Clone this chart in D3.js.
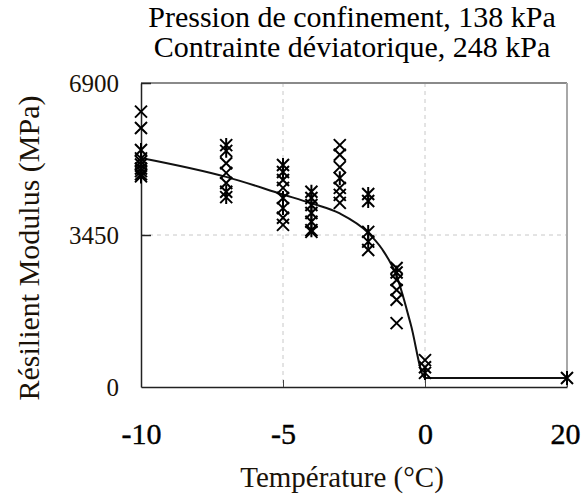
<!DOCTYPE html>
<html>
<head>
<meta charset="utf-8">
<script src="https://cdn.jsdelivr.net/npm/d3@7"></script>
<style>
  body { margin: 0; background: #fff; }
  svg { display: block; font-family: "Liberation Serif", "Times New Roman", serif; }
</style>
</head>
<body>
<div id="chart"></div>
<script>
// titles and axis text
const titleLines = ['Pression de confinement, 138 kPa', 'Contrainte déviatorique, 248 kPa']
const xLabel = 'Température (°C)'
const yLabel = 'Résilient Modulus (MPa)'

// x axis is broken: -10..0 linear, then a short jump to 20
const xTicks = [-10, -5, 0, 20]
const yTicks = [0, 3450, 6900]

// measured points, asterisk markers
const starTemp = [-10, -10, -10, -10, -10, -7, -7, -7, -7, -5, -5, -5, -5, -4, -4, -4, -4, -4, -4, -3, -2, -2, -2, -2, -1, 0, 20]
const starVal = [5380, 5190, 5050, 4900, 4780, 5490, 5360, 4430, 4310, 5040, 4880, 4290, 4060, 4430, 4290, 4130, 3950, 3750, 3560, 4740, 4380, 4220, 3520, 3300, 2600, 320, 204]

// measured points, x markers
const crossTemp = [-10, -10, -10, -10, -10, -7, -7, -7, -5, -5, -5, -5, -4, -3, -3, -3, -3, -3, -3, -2, -1, -1, -1, -1, -1, 0, 0]
const crossVal = [6250, 5880, 5120, 4960, 4830, 5080, 4860, 4630, 4700, 4520, 3840, 3680, 3520, 5490, 5270, 4990, 4520, 4360, 4180, 3110, 2700, 2430, 2200, 1980, 1450, 610, 450]

// fitted trend curve
const fitTemp = [-10, -7, -5, -4, -3, -2, -1.5, -1, -0.5, 0, 20]
const fitVal = [5200, 4770, 4370, 4170, 3940, 3500, 3120, 2520, 1420, 204, 204]

const width = 581
const height = 497
const margin = { top: 83, right: 14, bottom: 110, left: 141 }
const innerW = width - margin.left - margin.right
const innerH = height - margin.top - margin.bottom

const svg = d3.select('#chart').append('svg')
  .attr('width', width)
  .attr('height', height)

const g = svg.append('g').attr('transform', `translate(${margin.left},${margin.top})`)

const x = d3.scaleLinear()
  .domain([-10, 0, 20])
  .range([0, innerW * 2 / 3, innerW])

const y = d3.scaleLinear()
  .domain([0, 6900])
  .range([innerH, 0])

// dashed grid
g.append('g')
  .selectAll('line.hgrid')
  .data([3450])
  .enter()
  .append('line')
  .attr('x1', 0)
  .attr('x2', innerW)
  .attr('y1', (d) => y(d))
  .attr('y2', (d) => y(d))
  .attr('stroke', '#c8c8c8')
  .attr('stroke-dasharray', '4,4')

g.append('g')
  .selectAll('line.vgrid')
  .data([-5, 0])
  .enter()
  .append('line')
  .attr('x1', (d) => x(d))
  .attr('x2', (d) => x(d))
  .attr('y1', 0)
  .attr('y2', innerH)
  .attr('stroke', '#c8c8c8')
  .attr('stroke-dasharray', '4,4')

// top and right frame
g.append('line')
  .attr('x1', 0).attr('x2', innerW)
  .attr('y1', 0).attr('y2', 0)
  .attr('stroke', '#8a8a8a')
  .attr('stroke-width', 2)
g.append('line')
  .attr('x1', innerW).attr('x2', innerW)
  .attr('y1', 0).attr('y2', innerH)
  .attr('stroke', '#a8a8a8')
  .attr('stroke-width', 2)

// axes
const xAxis = g.append('g')
  .attr('transform', `translate(0,${innerH})`)
  .call(d3.axisBottom(x).tickValues(xTicks).tickSizeInner(-7).tickSizeOuter(0).tickPadding(36).tickFormat(d3.format('d')))
xAxis.select('.domain').attr('stroke', '#222').attr('stroke-width', 1.5)
xAxis.selectAll('.tick line').attr('stroke', '#444')
xAxis.selectAll('.tick text')
  .attr('font-size', 30)
  .attr('font-family', '"Liberation Serif", serif')
  .attr('fill', '#000')
  .attr('stroke', '#000')
  .attr('stroke-width', 0.4)
  .text((d) => (d < 0 ? '-' + Math.abs(d) : d))
// last label sits against the right edge of the window
xAxis.selectAll('.tick text')
  .filter((d) => d === 20)
  .attr('text-anchor', 'end')
  .attr('x', width - margin.left - 1 - x(20))

const yAxis = g.append('g')
  .call(d3.axisLeft(y).tickValues(yTicks).tickSizeInner(-10).tickSizeOuter(0).tickPadding(22).tickFormat(d3.format('d')))
yAxis.select('.domain').attr('stroke', '#222').attr('stroke-width', 1.5)
yAxis.selectAll('.tick line').attr('stroke', '#222').attr('stroke-width', 1.5)
yAxis.selectAll('.tick')
  .filter((d) => d === 0)
  .select('line')
  .remove()
yAxis.selectAll('.tick text')
  .attr('font-size', 25)
  .attr('font-family', '"Liberation Serif", serif')
  .attr('fill', '#1a1208')

// trend curve
const line = d3.line()
  .x((d) => x(d[0]))
  .y((d) => y(d[1]))
  .curve(d3.curveMonotoneX)

g.append('path')
  .datum(d3.zip(fitTemp, fitVal))
  .attr('d', line)
  .attr('fill', 'none')
  .attr('stroke', '#111')
  .attr('stroke-width', 2)

// markers
const s = 6
const crossPath = `M${-s},${-s}L${s},${s}M${-s},${s}L${s},${-s}`
const starPath = crossPath + `M0,${-s - 1}L0,${s + 1}`

g.append('g')
  .selectAll('path')
  .data(d3.zip(crossTemp, crossVal))
  .enter()
  .append('path')
  .attr('transform', (d) => `translate(${x(d[0])},${y(d[1])})`)
  .attr('d', crossPath)
  .attr('stroke', '#000')
  .attr('stroke-width', 2)
  .attr('fill', 'none')

g.append('g')
  .selectAll('path')
  .data(d3.zip(starTemp, starVal))
  .enter()
  .append('path')
  .attr('transform', (d) => `translate(${x(d[0])},${y(d[1])})`)
  .attr('d', starPath)
  .attr('stroke', '#000')
  .attr('stroke-width', 2)
  .attr('fill', 'none')

// titles
svg.append('g')
  .selectAll('text')
  .data(titleLines)
  .enter()
  .append('text')
  .attr('x', 352)
  .attr('y', (d, i) => 27 + i * 30)
  .attr('text-anchor', 'middle')
  .attr('font-size', 30)
  .attr('fill', '#000')
  .text((d) => d)

svg.append('text')
  .attr('x', 342)
  .attr('y', 487)
  .attr('text-anchor', 'middle')
  .attr('font-size', 29)
  .attr('fill', '#1a1208')
  .text(xLabel)

svg.append('text')
  .attr('transform', 'translate(39,248) rotate(-90)')
  .attr('text-anchor', 'middle')
  .attr('font-size', 30)
  .attr('fill', '#1a1208')
  .text(yLabel)
</script>
</body>
</html>
